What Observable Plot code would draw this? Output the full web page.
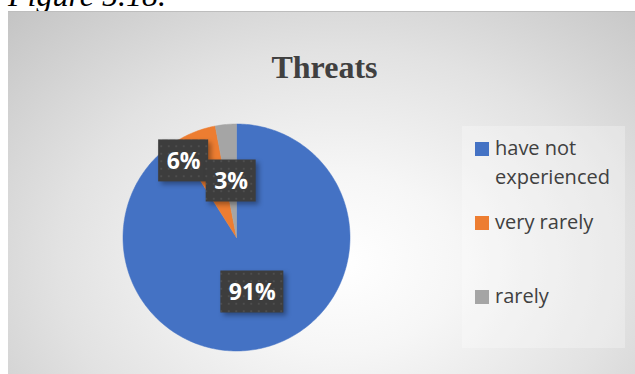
<!DOCTYPE html>
<html>
<head>
<meta charset="utf-8">
<script src="https://cdn.jsdelivr.net/npm/d3@7"></script>
<script src="https://cdn.jsdelivr.net/npm/@observablehq/plot@0.6"></script>
<style>
  html, body { margin: 0; padding: 0; width: 635px; height: 374px; overflow: hidden; background: #fff; }
  #fig { position: absolute; left: 8px; top: -21px; font: italic 32px "Liberation Serif", "Times New Roman", serif; line-height: 32px; color: #000; white-space: nowrap; }
  #area { position: absolute; left: 8px; top: 11px; width: 640px; height: 380px; border-top: 1px solid #bdbdbd;
    background: radial-gradient(ellipse farthest-corner at 52% 66%, #ffffff 0%, #f6f6f6 25%, #e2e2e2 60%, #c4c4c4 100%); }
  #legbox { position: absolute; left: 462px; top: 126px; width: 163px; height: 222px; background: rgba(255,255,255,0.28); }
  #title { position: absolute; left: 0; width: 649px; top: 51px; text-align: center; font: bold 32px "Liberation Serif", "Times New Roman", serif; line-height: 32px; color: #404040; }
  #chart { position: absolute; left: 0; top: 0; }
  #chart svg g[aria-label="rect"] rect { filter: drop-shadow(3px 3px 2.5px rgba(0,0,0,0.35)); }
  .leg { position: absolute; left: 475px; width: 150px; font: 20px "Open Sans", sans-serif; line-height: 29px; color: #404040; }
  .leg .sw { position: absolute; left: 0; top: 9px; width: 14px; height: 14px; }
  .leg .tx { position: absolute; left: 20px; top: 0; width: 125px; }
</style>
</head>
<body>
<div id="fig">Figure 5.18.</div>
<div id="area"></div>
<div id="legbox"></div>
<div id="title">Threats</div>
<div id="chart"></div>
<div id="legend"></div>
<script>
// ---- data ----
const categories = ["have not experienced", "very rarely", "rarely"];
const values = [91, 6, 3];
const labels = ["91%", "6%", "3%"];
const colors = ["#4472C4", "#ED7D31", "#A5A5A5"];

// ---- layout / style config ----
const cx = 236, cy = 237, R = 113.5;
const labelNudge = [{r: 0.5, da: 0}, {r: 0.82, da: -13}, {r: 0.5, da: 0}]; // best-fit label placement
const boxH = 42;

const pie = d3.pie().sort(null).value(d => d)(values);
const rad = Math.PI / 180;

const slices = [];
pie.forEach((p, i) => {
  const a0 = p.startAngle, a1 = p.endAngle;
  const n = Math.max(2, Math.ceil((a1 - a0) / rad));
  slices.push({cat: categories[i], x: 0, y: 0});
  for (let k = 0; k <= n; k++) {
    const a = a0 + (a1 - a0) * k / n;
    slices.push({cat: categories[i], x: Math.sin(a), y: Math.cos(a)});
  }
  slices.push({cat: categories[i], x: 0, y: 0});
});

const labelData = pie.map((p, i) => {
  const a = (p.startAngle + p.endAngle) / 2 + labelNudge[i].da * rad;
  const r = labelNudge[i].r;
  const w = 24 + 13 * labels[i].length;
  const x = r * Math.sin(a), y = r * Math.cos(a);
  return {text: labels[i], x, y, x1: x - w / 2 / R, x2: x + w / 2 / R, y1: y - boxH / 2 / R, y2: y + boxH / 2 / R};
});

const plot = Plot.plot({
  width: 635,
  height: 374,
  margin: 0,
  style: {background: "transparent", overflow: "visible"},
  x: {domain: [-1, 1], range: [cx - R, cx + R], axis: null},
  y: {domain: [-1, 1], range: [cy + R, cy - R], axis: null},
  color: {domain: categories, range: colors},
  marks: [
    Plot.line(slices, {x: "x", y: "y", z: "cat", fill: "cat", stroke: "cat", strokeWidth: 0.5, curve: "linear"}),
    Plot.rect(labelData, {x1: "x1", x2: "x2", y1: "y1", y2: "y2", fill: "url(#dots)"}),
    Plot.text(labelData, {x: "x", y: "y", text: "text", fill: "white", fontSize: 23, fontWeight: "bold", fontFamily: "Open Sans, sans-serif", dy: 1})
  ]
});
document.getElementById("chart").appendChild(plot);

const defs = d3.select(plot).insert("defs", ":first-child");
const pat = defs.append("pattern").attr("id", "dots").attr("patternUnits", "userSpaceOnUse").attr("width", 7.5).attr("height", 7.5);
pat.append("rect").attr("width", 7.5).attr("height", 7.5).attr("fill", "#3d3d3d");
pat.append("circle").attr("cx", 3.75).attr("cy", 3.75).attr("r", 1).attr("fill", "#525252");

// legend
const legend = document.getElementById("legend");
const legTop0 = 133, legStep = 74;
categories.forEach((c, i) => {
  const d = document.createElement("div");
  d.className = "leg";
  d.style.top = (legTop0 + i * legStep) + "px";
  d.innerHTML = `<div class="sw" style="background:${colors[i]}"></div><div class="tx">${c}</div>`;
  legend.appendChild(d);
});
</script>
</body>
</html>
